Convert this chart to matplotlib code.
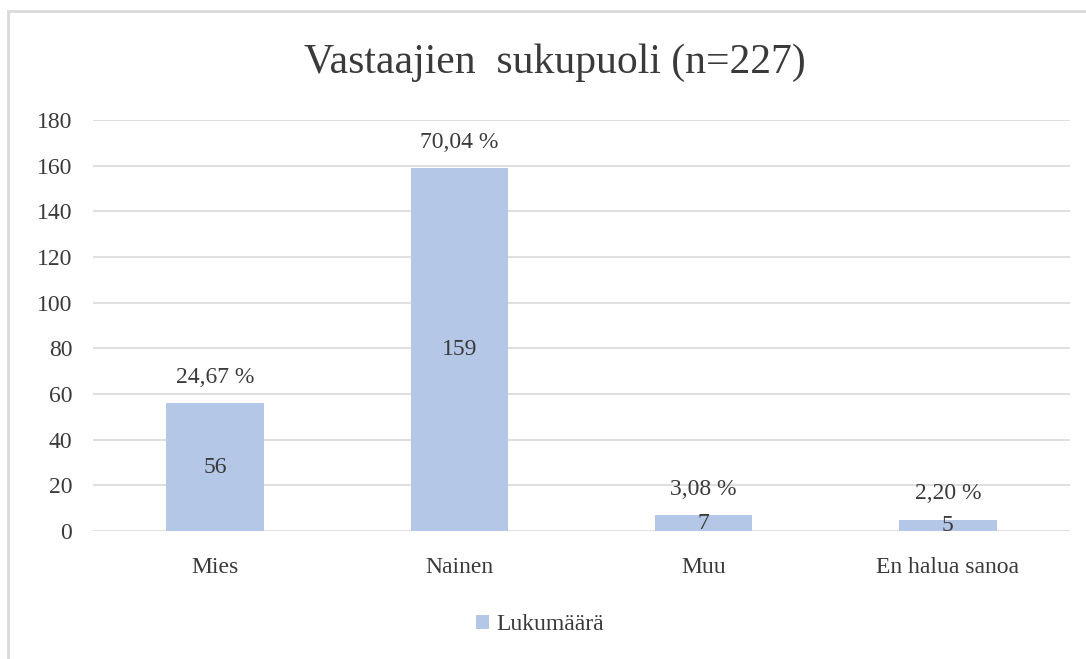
import matplotlib
matplotlib.use("Agg")
import matplotlib.pyplot as plt
from matplotlib.patches import Rectangle

categories = ["Mies", "Nainen", "Muu", "En halua sanoa"]
counts = [56, 159, 7, 5]
percent_labels = ["24,67 %", "70,04 %", "3,08 %", "2,20 %"]
yticks = [0, 20, 40, 60, 80, 100, 120, 140, 160, 180]
series_name = "Lukumäärä"
title = "Vastaajien  sukupuoli (n=227)"

plt.rcParams['font.family'] = ['Liberation Serif', 'DejaVu Serif']
text_color = "#3a3a3a"
bar_color = "#B4C7E7"
grid_color = "#D9D9D9"
fs = 17

W, H = 1086, 659
fig = plt.figure(figsize=(W/100, H/100), dpi=100)
ax = fig.add_axes([93/W, 1 - 531/H, (1070-93)/W, (531-120)/H])

x = list(range(len(categories)))
bars = ax.bar(x, counts, width=0.4, color=bar_color, zorder=2, label=series_name)
ax.set_xlim(-0.5, len(categories) - 0.5)
ax.set_ylim(0, 180)
ax.set_yticks(yticks)
ax.set_yticklabels([str(t) for t in yticks], fontsize=fs, color=text_color)
ax.set_xticks(x)
ax.set_xticklabels(categories, fontsize=fs, color=text_color)
ax.tick_params(axis='both', length=0)
ax.tick_params(axis='y', pad=15)
ax.tick_params(axis='x', pad=19)
ax.grid(axis='y', color=grid_color, linewidth=1.2, zorder=0)
for s in ax.spines.values():
    s.set_visible(False)

for xi, c, p in zip(x, counts, percent_labels):
    ax.text(xi, c / 2, str(c), ha='center', va='center', fontsize=fs, color=text_color, zorder=3)
    ax.annotate(p, (xi, c), xytext=(0, 11), textcoords='offset points',
                ha='center', va='bottom', fontsize=fs, color=text_color, zorder=3)

fig.text(555/W, 1 - 63/H, title, ha='center', va='center', fontsize=30, color=text_color)

leg = fig.legend(handles=[bars], labels=[series_name], loc='center',
                 bbox_to_anchor=(540/W, 1 - 625/H), frameon=False, fontsize=fs,
                 handlelength=0.55, handleheight=0.55, handletextpad=0.3)
for t in leg.get_texts():
    t.set_color(text_color)

fig.patches.append(Rectangle((8/W, -0.05), 1.2, 1.05 - 11/H, transform=fig.transFigure,
                             fill=False, edgecolor="#D9D9D9", linewidth=2))

fig.savefig("out.png", dpi=100)
